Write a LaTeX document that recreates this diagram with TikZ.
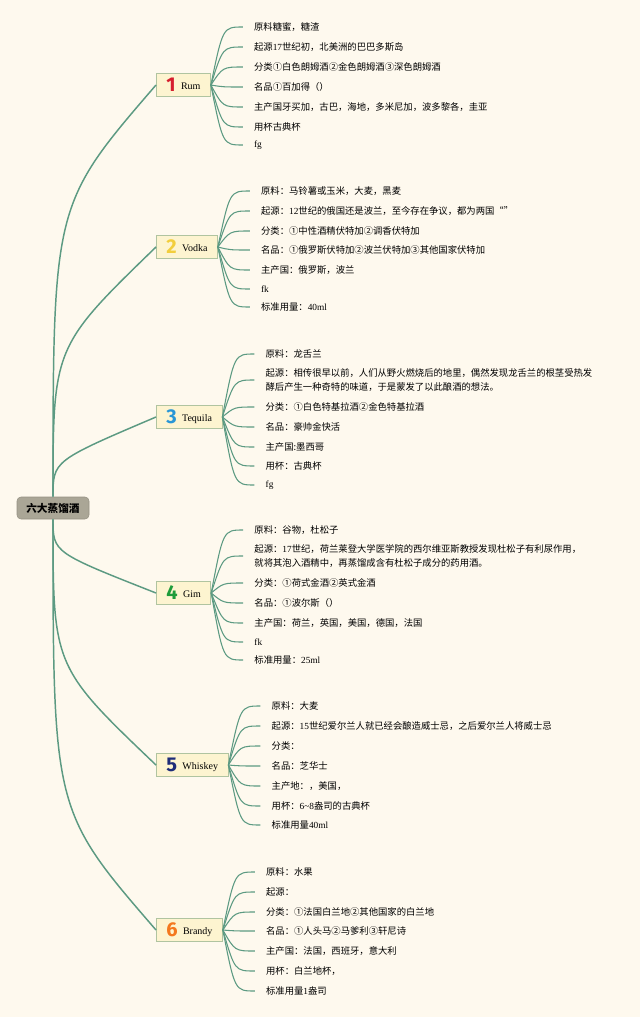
\documentclass[tikz,border=0pt]{standalone}
\usepackage{fontspec}
\setmainfont{Liberation Serif}
\newfontfamily\cjkfont{Noto Sans CJK SC}
\newfontfamily\numfont{Fira Sans}
\usetikzlibrary{calc}
\definecolor{paper}{RGB}{254,249,238}
\definecolor{branch}{RGB}{92,154,130}
\definecolor{boxfill}{RGB}{253,244,208}
\definecolor{boxline}{RGB}{176,196,160}
\definecolor{rootfill}{RGB}{170,166,150}
\definecolor{rootline}{RGB}{150,146,132}
\definecolor{numred}{RGB}{214,30,45}
\definecolor{numyellow}{RGB}{242,206,60}
\definecolor{numblue}{RGB}{40,150,214}
\definecolor{numgreen}{RGB}{30,156,58}
\definecolor{numnavy}{RGB}{30,44,120}
\definecolor{numorange}{RGB}{244,120,30}
\newcommand{\latn}[1]{{\rmfamily #1}}
\newcommand{\drinkname}[3]{{\numfont\bfseries\fontsize{15}{15}\selectfont\color{#1}#2}\hspace{4pt}\raisebox{1.5pt}{#3}}
\tikzstyle{topic}=[draw=rootline, fill=rootfill, rounded corners=3pt, minimum width=54pt, minimum height=16.5pt, font=\cjkfont\bfseries\fontsize{8}{8}\selectfont]
\tikzstyle{drink}=[draw=boxline, fill=boxfill, semithick, anchor=west, minimum height=17.25pt, inner xsep=7.5pt, inner ysep=0pt, font=\fontsize{7.5}{8}\selectfont]
\tikzstyle{fact}=[anchor=west, inner xsep=8.25pt, inner ysep=0pt, align=left, font=\cjkfont\fontsize{7}{10.5}\selectfont]
\tikzstyle{limb}=[draw=branch, line width=1.1pt]
\tikzstyle{twig}=[draw=branch, line width=0.8pt]

\begin{document}
\begin{tikzpicture}[x=0.75pt, y=-0.75pt]
  \fill[paper] (0,0) rectangle (640,1017);
  \useasboundingbox (0,0) rectangle (640,1017);

  \node[topic] (topic) at (53,508) {六大蒸馏酒};

  \node[drink] (rum) at (156,85) {\drinkname{numred}{1}{Rum}};
  \node[drink] (vodka) at (156,247) {\drinkname{numyellow}{2}{Vodka}};
  \node[drink] (tequila) at (156,417) {\drinkname{numblue}{3}{Tequila}};
  \node[drink] (gim) at (156,593) {\drinkname{numgreen}{4}{Gim}};
  \node[drink] (whiskey) at (156,765) {\drinkname{numnavy}{5}{Whiskey}};
  \node[drink] (brandy) at (156,930) {\drinkname{numorange}{6}{Brandy}};

  % main branches
  \foreach \b/\r in {rum/0.71,vodka/0.6,tequila/0.45}
    \draw[limb] (topic.north) .. controls ($(topic.north)!\r!(topic.north |- \b.west)$) .. (\b.west);
  \foreach \b/\r in {gim/0.45,whiskey/0.6,brandy/0.71}
    \draw[limb] (topic.south) .. controls ($(topic.south)!\r!(topic.south |- \b.west)$) .. (\b.west);

  % fan and tip of every drink
  \foreach \b in {rum,vodka,tequila,gim,whiskey,brandy} {
    \coordinate (\b fan) at ([xshift=9pt]\b.east);
    \coordinate (\b tip) at ([xshift=24pt]\b.east);
  }

  % Rum
  \foreach \y/\txt [count=\i] in {
      27/{原料糖蜜，糖渣},
      47/{起源\latn{17}世纪初，北美洲的巴巴多斯岛},
      67/{分类①白色朗姆酒②金色朗姆酒③深色朗姆酒},
      87/{名品①百加得（）},
      107/{主产国牙买加，古巴，海地，多米尼加，波多黎各，圭亚},
      127/{用杯古典杯},
      145/{\latn{fg}}} {
    \node[fact] (rum\i) at (rumtip |- 0,\y) {\txt};
    \draw[twig] (rum.east) .. controls (rumfan |- rum\i.west) .. (rum\i.west);
  }

  % Vodka
  \foreach \y/\txt [count=\i] in {
      191/{原料：马铃薯或玉米，大麦，黑麦},
      211/{起源：\latn{12}世纪的俄国还是波兰，至今存在争议，都为两国“”},
      231/{分类：①中性酒精伏特加②调香伏特加},
      250/{名品：①俄罗斯伏特加②波兰伏特加③其他国家伏特加},
      270/{主产国：俄罗斯，波兰},
      289/{\latn{fk}},
      307/{标准用量：\latn{40ml}}} {
    \node[fact] (vodka\i) at (vodkatip |- 0,\y) {\txt};
    \draw[twig] (vodka.east) .. controls (vodkafan |- vodka\i.west) .. (vodka\i.west);
  }

  % Tequila
  \foreach \y/\txt [count=\i] in {
      354/{原料：龙舌兰},
      380/{起源：相传很早以前，人们从野火燃烧后的地里，偶然发现龙舌兰的根茎受热发\\酵后产生一种奇特的味道，于是蒙发了以此酿酒的想法。},
      407/{分类：①白色特基拉酒②金色特基拉酒},
      427/{名品：豪帅金快活},
      447/{主产国:墨西哥},
      466/{用杯：古典杯},
      485/{\latn{fg}}} {
    \node[fact] (tequila\i) at (tequilatip |- 0,\y) {\txt};
    \draw[twig] (tequila.east) .. controls (tequilafan |- tequila\i.west) .. (tequila\i.west);
  }

  % Gim
  \foreach \y/\txt [count=\i] in {
      530/{原料：谷物，杜松子},
      556/{起源：\latn{17}世纪，荷兰莱登大学医学院的西尔维亚斯教授发现杜松子有利尿作用，\\就将其泡入酒精中，再蒸馏成含有杜松子成分的药用酒。},
      583/{分类：①荷式金酒②英式金酒},
      603/{名品：①波尔斯（）},
      623/{主产国：荷兰，英国，美国，德国，法国},
      642/{\latn{fk}},
      660/{标准用量：\latn{25ml}}} {
    \node[fact] (gim\i) at (gimtip |- 0,\y) {\txt};
    \draw[twig] (gim.east) .. controls (gimfan |- gim\i.west) .. (gim\i.west);
  }

  % Whiskey
  \foreach \y/\txt [count=\i] in {
      706/{原料：大麦},
      726/{起源：\latn{15}世纪爱尔兰人就已经会酿造威士忌，之后爱尔兰人将威士忌},
      746/{分类：},
      766/{名品：芝华士},
      786/{主产地：，美国，},
      806/{用杯：\latn{6\textasciitilde8}盎司的古典杯},
      825/{标准用量\latn{40ml}}} {
    \node[fact] (whiskey\i) at (whiskeytip |- 0,\y) {\txt};
    \draw[twig] (whiskey.east) .. controls (whiskeyfan |- whiskey\i.west) .. (whiskey\i.west);
  }

  % Brandy
  \foreach \y/\txt [count=\i] in {
      872/{原料：水果},
      892/{起源：},
      912/{分类：①法国白兰地②其他国家的白兰地},
      931/{名品：①人头马②马爹利③轩尼诗},
      951/{主产国：法国，西班牙，意大利},
      971/{用杯：白兰地杯，},
      991/{标准用量\latn{1}盎司}} {
    \node[fact] (brandy\i) at (brandytip |- 0,\y) {\txt};
    \draw[twig] (brandy.east) .. controls (brandyfan |- brandy\i.west) .. (brandy\i.west);
  }
\end{tikzpicture}
\end{document}
